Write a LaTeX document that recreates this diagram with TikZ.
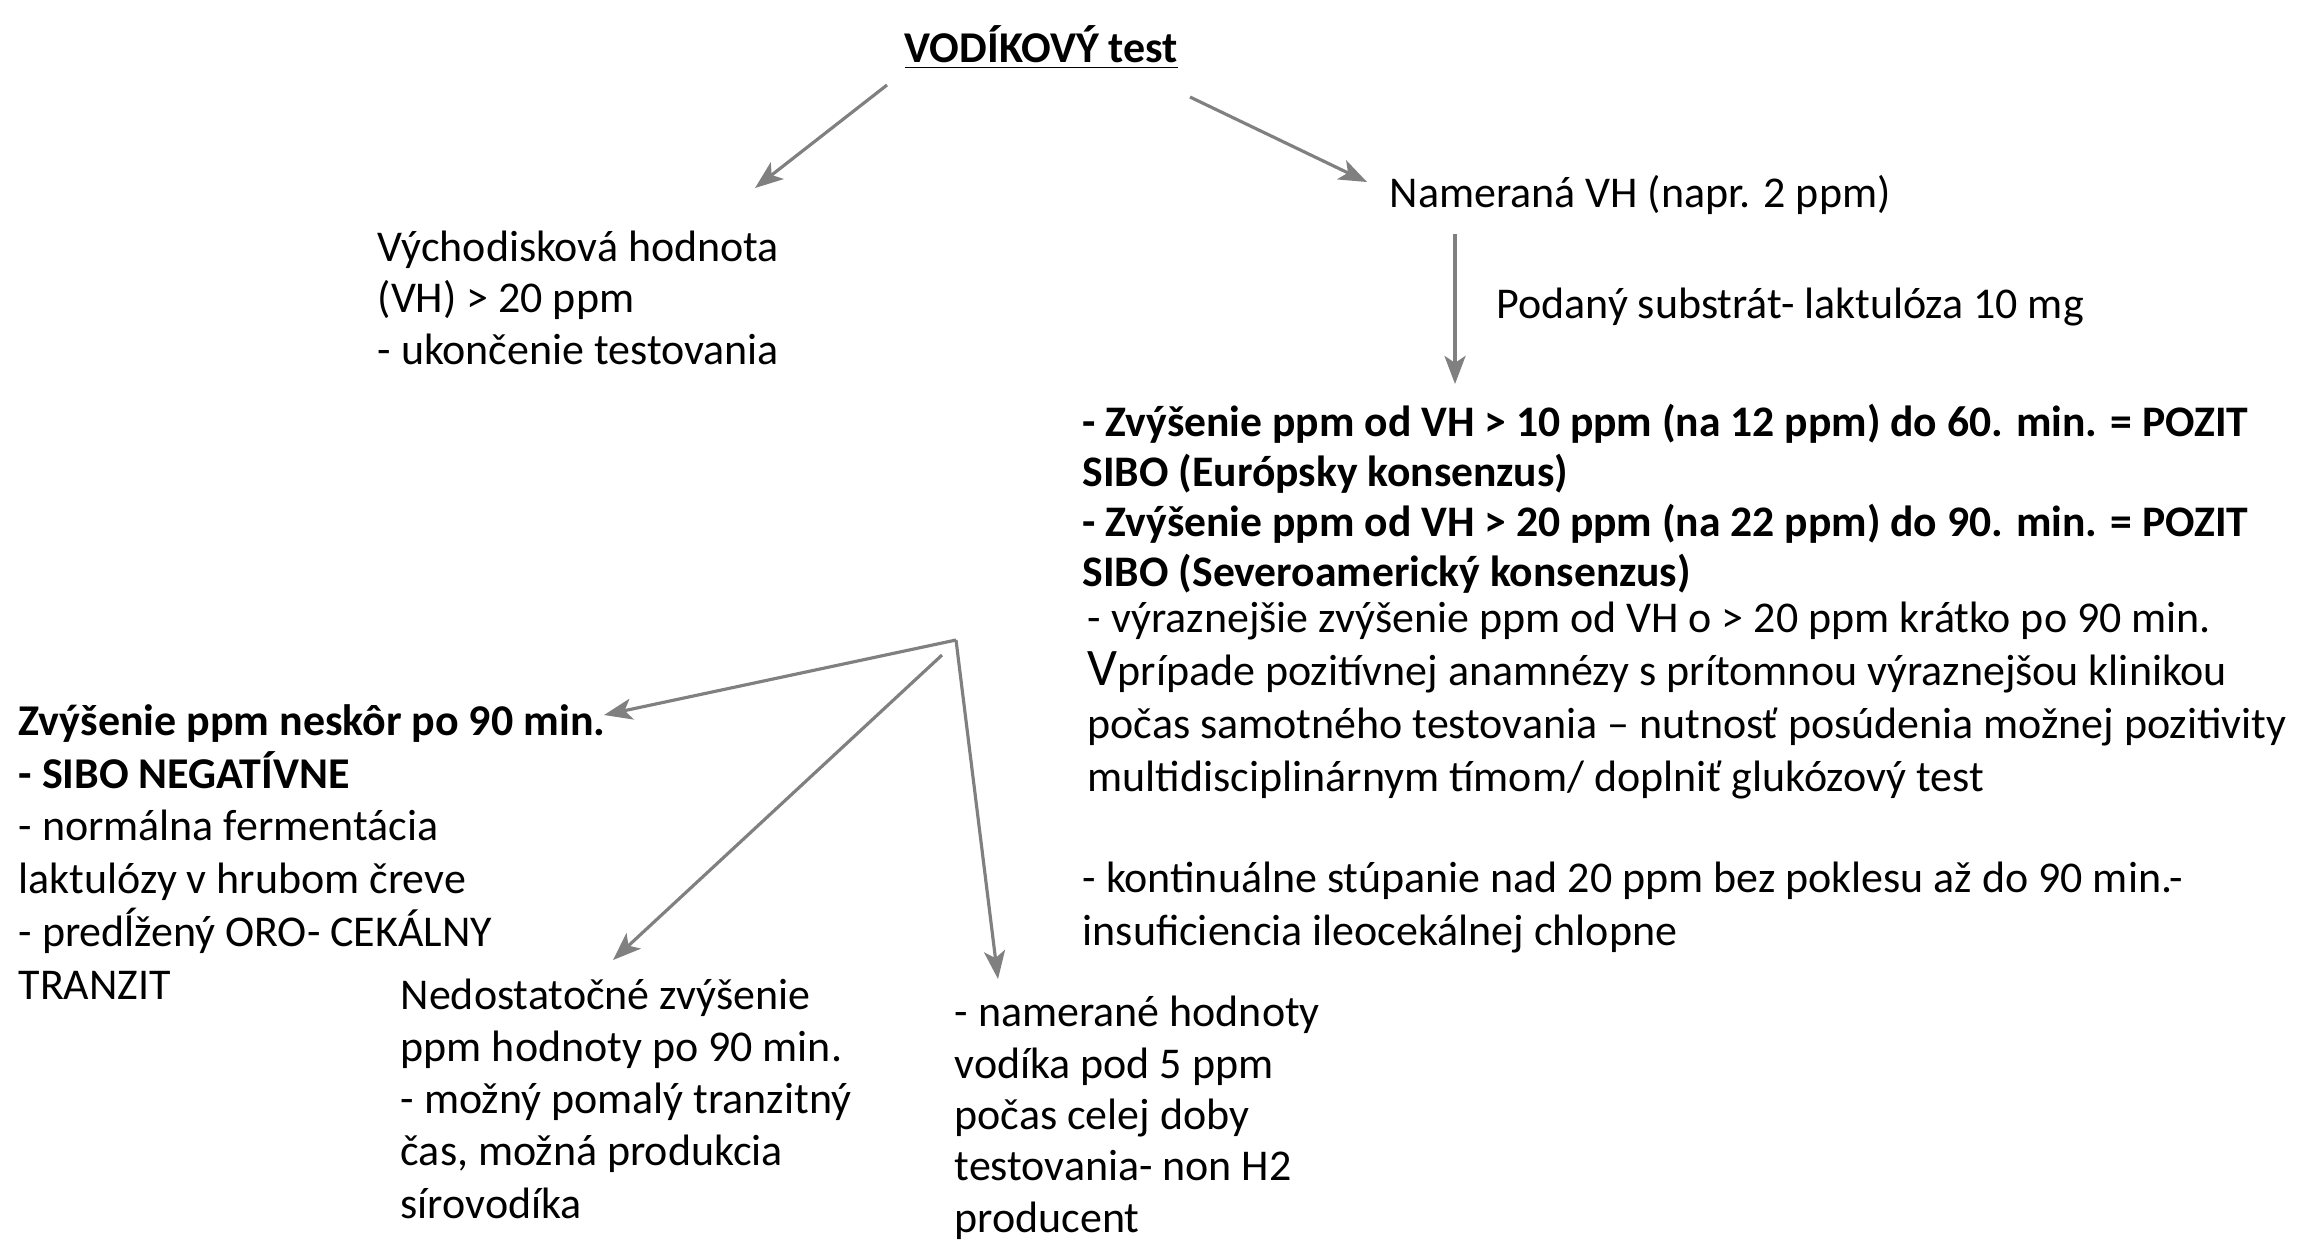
\documentclass[tikz,border=0pt]{standalone}
\usepackage{fontspec}
\setmainfont{Carlito}
\usetikzlibrary{arrows.meta}
\definecolor{arrowgray}{HTML}{808080}
\begin{document}
\begin{tikzpicture}[x=0.01cm,y=-0.01cm,
  txt/.style={anchor=base west, inner sep=0, align=left, font=\fontsize{12.5}{14.6}\selectfont},
  conn/.style={draw=arrowgray, line width=0.9pt, -{Stealth[length=8pt,width=6pt,inset=2pt]}}]
\useasboundingbox[fill=white] (0,0) rectangle (2298,1247);

% multi-line nodes are placed by the baseline of their last line
\node[txt, font=\fontsize{12.5}{14.6}\selectfont\bfseries] (title) at (904,62) {\underline{VODÍKOVÝ test}};
\node[txt] (vh) at (377,364) {Východisková hodnota\\(VH) > 20 ppm\\- ukončenie testovania};
\node[txt] (nam) at (1389,207) {Nameraná VH (napr. 2 ppm)};
\node[txt] (sub) at (1496,318) {Podaný substrát- laktulóza 10 mg};
\node[txt, font=\fontsize{12.4}{14.2}\selectfont\bfseries] (pozit) at (1082,586) {- Zvýšenie ppm od VH > 10 ppm (na 12 ppm) do 60. min. = POZIT\\SIBO (Európsky konsenzus)\\- Zvýšenie ppm od VH > 20 ppm (na 22 ppm) do 90. min. = POZIT\\SIBO (Severoamerický konsenzus)};
\node[txt, font=\fontsize{12.5}{15}\selectfont] (vyr) at (1087,791) {- výraznejšie zvýšenie ppm od VH o > 20 ppm krátko po 90 min.\\{\fontsize{15}{15}\selectfont V}prípade pozitívnej anamnézy s prítomnou výraznejšou klinikou\\počas samotného testovania – nutnosť posúdenia možnej pozitivity\\multidisciplinárnym tímom/ doplniť glukózový test};
\node[txt, font=\fontsize{12.5}{14.8}\selectfont] (kont) at (1082,945) {- kontinuálne stúpanie nad 20 ppm bez poklesu až do 90 min.-\\insuficiencia ileocekálnej chlopne};
\node[txt, font=\fontsize{12.5}{15}\selectfont] (neg) at (18,999) {\textbf{Zvýšenie ppm neskôr po 90 min.}\\\textbf{- SIBO NEGATÍVNE}\\- normálna fermentácia\\laktulózy v hrubom čreve\\- predĺžený ORO- CEKÁLNY\\TRANZIT};
\node[txt, font=\fontsize{12.5}{14.8}\selectfont] (ned) at (400,1218) {Nedostatočné zvýšenie\\ppm hodnoty po 90 min.\\- možný pomalý tranzitný\\čas, možná produkcia\\sírovodíka};
\node[txt, font=\fontsize{12.5}{14.6}\selectfont] (non) at (954,1232) {- namerané hodnoty\\vodíka pod 5 ppm\\počas celej doby\\testovania- non H2\\producent};

\coordinate (t1) at (887,85);
\coordinate (e1) at (755,188);
\coordinate (t2) at (1190,97);
\coordinate (e2) at (1367,182);
\coordinate (n1) at (1455,234);
\coordinate (e3) at (1455,384);
\coordinate (br) at (956,640);
\coordinate (br2) at (942,655);
\coordinate (e4) at (604,715);
\coordinate (e5) at (613,960);
\coordinate (e6) at (998,979);

\draw[conn] (t1) -- (e1);
\draw[conn] (t2) -- (e2);
\draw[conn] (n1) -- (e3);
\draw[conn] (br) -- (e4);
\draw[conn] (br2) -- (e5);
\draw[conn] (br) -- (e6);
\end{tikzpicture}
\end{document}
